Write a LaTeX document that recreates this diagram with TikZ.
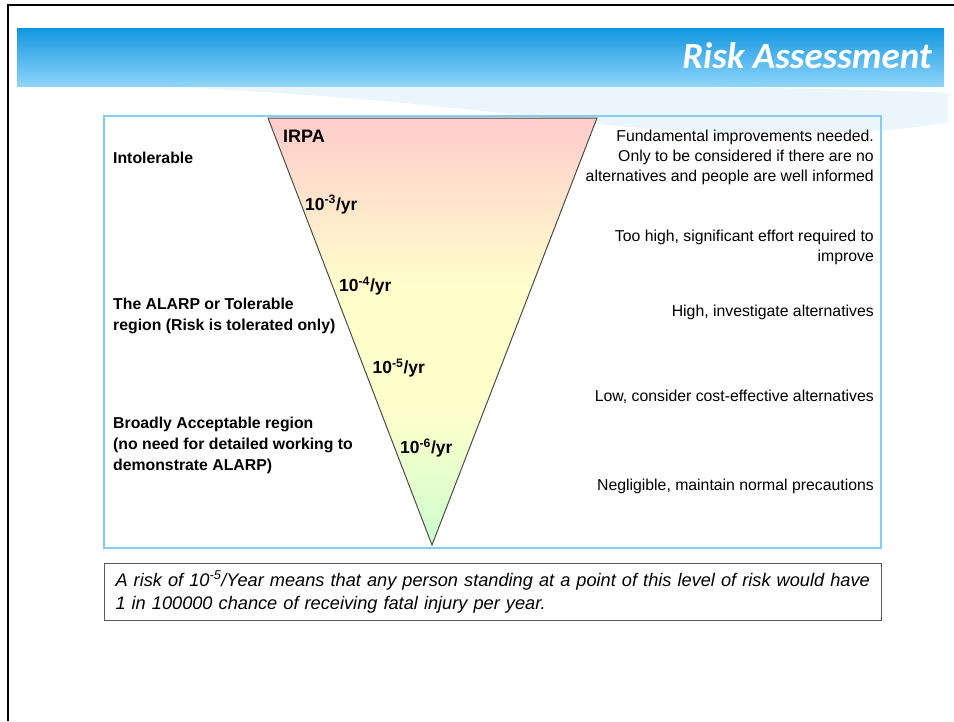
\documentclass[tikz,border=0pt]{standalone}
\usepackage{fontspec}
\setmainfont{Liberation Sans}
\newfontfamily\carlito{Carlito}
\usepackage{xcolor}
\usetikzlibrary{positioning}

\definecolor{barTop}{RGB}{18,150,224}
\definecolor{barBot}{RGB}{142,213,251}
\definecolor{swoosh}{RGB}{234,245,252}
\definecolor{boxLine}{RGB}{135,204,245}
\definecolor{riskRed}{RGB}{255,204,204}
\definecolor{riskYel}{RGB}{255,255,204}
\definecolor{riskGrn}{RGB}{204,255,204}
\pgfdeclareverticalshading{riskfade}{100bp}{color(0bp)=(riskGrn); color(25bp)=(riskGrn); color(41bp)=(riskYel); color(55bp)=(riskYel); color(75bp)=(riskRed); color(100bp)=(riskRed)}

\begin{document}
\begin{tikzpicture}[x=1pt,y=-1pt,
  region/.style={font=\fontsize{15.8}{21}\selectfont\bfseries, align=left, anchor=north west, inner sep=0pt},
  advice/.style={font=\fontsize{15.8}{20}\selectfont, align=right, anchor=north east, inner sep=0pt}]
        \tikzstyle{level} = [font=\fontsize{17.5}{20}\selectfont\bfseries, anchor=base west, inner sep=0pt]
        \useasboundingbox (0,0) rectangle (954,721);

        % slide frame and title bar
        \draw[line width=2.5pt] (8,721) -- (8,5) -- (954,5);
        \fill[swoosh] (150,86) .. controls (450,84) and (800,86) .. (948,93) -- (948,122)
            .. controls (850,140) and (700,136) .. (560,120) .. controls (420,102) and (260,90) .. cycle;
        \shade[top color=barTop, bottom color=barBot] (17,28) rectangle (944,86);
        \node[font=\carlito\bfseries\itshape\fontsize{37}{40}\selectfont, text=white, anchor=base east, inner sep=0pt] (title) at (932,68) {Risk Assessment};

        % diagram box
        \draw[boxLine, line width=1.3pt] (104,116) rectangle (881,548);

        \coordinate (tl) at (268,118);
        \coordinate (tr) at (597,118);
        \coordinate (apex) at (432,545);
        \draw[black!70, line width=1pt, shade, shading=riskfade] (tl) -- (tr) -- (apex) -- cycle;

        \node[level, font=\fontsize{18}{20}\selectfont\bfseries] (irpa) at (283,142.3) {IRPA};
        \node[level] (l3) at (305,210) {10\textsuperscript{-3}/yr};
        \node[level] (l4) at (339,291.7) {10\textsuperscript{-4}/yr};
        \node[level] (l5) at (372.5,373.3) {10\textsuperscript{-5}/yr};
        \node[level] (l6) at (400,453.3) {10\textsuperscript{-6}/yr};

        \node[region] (intol) at (113,151.5) {Intolerable};
        \node[region] (alarp) at (113,298) {The ALARP or Tolerable\\region (Risk is tolerated only)};
        \node[region] (broad) at (113,416.5) {Broadly Acceptable region\\(no need for detailed working to\\demonstrate ALARP)};

        \node[advice] (fund) at (874,130) {Fundamental improvements needed.\\Only to be considered if there are no\\alternatives and people are well informed};
        \node[advice] (toohigh) at (874,230) {Too high, significant effort required to\\improve};
        \node[advice] (high) at (874,305) {High, investigate alternatives};
        \node[advice] (low) at (874,390) {Low, consider cost-effective alternatives};
        \node[advice] (negl) at (874,478.5) {Negligible, maintain normal precautions};

        % note under the diagram
        \node[draw=black!65, line width=1pt, anchor=north west, minimum width=777pt, minimum height=57pt,
              text width=755pt, inner xsep=11pt, align=left, font=\fontsize{18.2}{23}\selectfont\itshape] (note) at (104,563)
            {A risk of 10\textsuperscript{-5}/Year means that any person standing at a point of this level of risk would have\\
             1 in 100000 chance of receiving fatal injury per year.};
\end{tikzpicture}
\end{document}
